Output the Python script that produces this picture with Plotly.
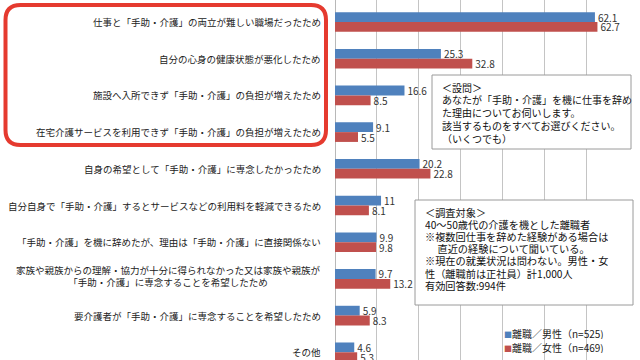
import plotly.graph_objects as go

categories = [
    "仕事と「手助・介護」の両立が難しい職場だったため",
    "自分の心身の健康状態が悪化したため",
    "施設へ入所できず「手助・介護」の負担が増えたため",
    "在宅介護サービスを利用できず「手助・介護」の負担が増えたため",
    "自身の希望として「手助・介護」に専念したかったため",
    "自分自身で「手助・介護」するとサービスなどの利用料を軽減できるため",
    "「手助・介護」を機に辞めたが、理由は「手助・介護」に直接関係ない",
    "家族や親族からの理解・協力が十分に得られなかった又は家族や親族が<br>「手助・介護」に専念することを希望したため",
    "要介護者が「手助・介護」に専念することを希望したため",
    "その他",
]
male = [62.1, 25.3, 16.6, 9.1, 20.2, 11, 9.9, 9.7, 5.9, 4.6]
female = [62.7, 32.8, 8.5, 5.5, 22.8, 8.1, 9.8, 13.2, 8.3, 5.3]
series_names = ["離職／男性（n=525)", "離職／女性（n=469)"]
series_colors = ["#4F81BD", "#C0504D"]
x_ticks = [0, 10, 20, 30, 40, 50, 60, 70]

box1_lines = [
    "＜設問＞",
    "あなたが「手助・介護」を機に仕事を辞め",
    "た理由についてお伺いします。",
    "該当するものをすべてお選びください。",
    "（いくつでも）",
]
box2_lines = [
    "＜調査対象＞",
    "40～50歳代の介護を機とした離職者",
    "※複数回仕事を辞めた経験がある場合は",
    "\u3000 直近の経験について聞いている。",
    "※現在の就業状況は問わない。男性・女",
    "性（離職前は正社員）計1,000人",
    "有効回答数:994件",
]

FONT = "Noto Sans CJK JP"
W, H = 640, 360
ML, MR, MT, MB = 335, 12, 0, 0
PW, PH = W - ML - MR, H - MT - MB


def P(px, py):
    return (px - ML) / PW, 1 - (py - MT) / PH


fig = go.Figure()
for name, vals, col in zip(series_names, [male, female], series_colors):
    fig.add_trace(go.Bar(
        y=categories, x=vals, name=name, orientation="h",
        marker=dict(color=col, line=dict(width=0)),
        text=vals, texttemplate="%{x}", textposition="outside",
        constraintext="none",
        textfont=dict(family=FONT, size=10, color="#333333"),
        cliponaxis=False, showlegend=False,
    ))

shapes = []
# rounded red highlight rectangle
x0, y0, x1, y1, r = 5.5, 5, 326, 145, 15
pts = [
    ("M", [(x0 + r, y0)]), ("L", [(x1 - r, y0)]), ("Q", [(x1, y0), (x1, y0 + r)]),
    ("L", [(x1, y1 - r)]), ("Q", [(x1, y1), (x1 - r, y1)]),
    ("L", [(x0 + r, y1)]), ("Q", [(x0, y1), (x0, y1 - r)]),
    ("L", [(x0, y0 + r)]), ("Q", [(x0, y0), (x0 + r, y0)]),
]
path = ""
for cmd, ps in pts:
    path += cmd + " " + " ".join("%.5f,%.5f" % P(a, b) for a, b in ps) + " "
path += "Z"
shapes.append(dict(type="path", xref="paper", yref="paper", path=path,
                   line=dict(color="#E53A2F", width=4), layer="above"))

# text boxes
for (bx0, by0, bx1, by1) in [(432, 75, 631, 149), (415, 200, 633, 305)]:
    ax0, ay0 = P(bx0, by0)
    ax1, ay1 = P(bx1, by1)
    shapes.append(dict(type="rect", xref="paper", yref="paper",
                       x0=ax0, y0=ay1, x1=ax1, y1=ay0,
                       fillcolor="white", line=dict(color="#9A9A9A", width=1),
                       layer="above"))

annotations = []
for cat in categories:
    multi = "<br>" in cat
    annotations.append(dict(
        xref="paper", yref="y", x=0, y=cat, xshift=-12, yshift=3 if multi else 0,
        xanchor="right", yanchor="middle", align="center", showarrow=False,
        text=cat, font=dict(family=FONT, size=9.5, color="#222222"),
    ))

for lines, lx, ly0, dy, fs in [(box1_lines, 441, 87, 12.75, 10),
                               (box2_lines, 424, 212, 12.2, 10.2)]:
    for i, t in enumerate(lines):
        ax, ay = P(lx, ly0 + i * dy)
        annotations.append(dict(
            xref="paper", yref="paper", x=ax, y=ay, xanchor="left", yanchor="middle",
            showarrow=False, text=t, height=11, borderpad=0,
            font=dict(family=FONT, size=fs, color="#111111"),
        ))

for i, (name, col) in enumerate(zip(series_names, series_colors)):
    ax, ay = P(503, 333 + i * 14)
    annotations.append(dict(
        xref="paper", yref="paper", x=ax, y=ay, xanchor="left", yanchor="middle",
        showarrow=False, height=12, borderpad=0,
        text="<span style='color:%s;font-size:8px'>■</span>%s" % (col, name),
        font=dict(family=FONT, size=10, color="#222222"),
    ))

fig.update_layout(
    width=W, height=H,
    margin=dict(l=ML, r=MR, t=MT, b=MB, pad=0),
    paper_bgcolor="white", plot_bgcolor="white",
    barmode="group", bargap=0.465, bargroupgap=0,
    shapes=shapes, annotations=annotations,
    font=dict(family=FONT),
    xaxis=dict(range=[0, 70], tickvals=x_ticks, showticklabels=False,
               showgrid=True, gridcolor="#C4C4C4", gridwidth=1,
               zeroline=True, zerolinecolor="#B8B8B8", zerolinewidth=1,
               showline=False, fixedrange=True),
    yaxis=dict(type="category", categoryorder="array", categoryarray=categories,
               range=[9.21, -0.6], showticklabels=False, showgrid=False,
               zeroline=False, showline=False, ticks=""),
)

fig.write_html("out.html")
